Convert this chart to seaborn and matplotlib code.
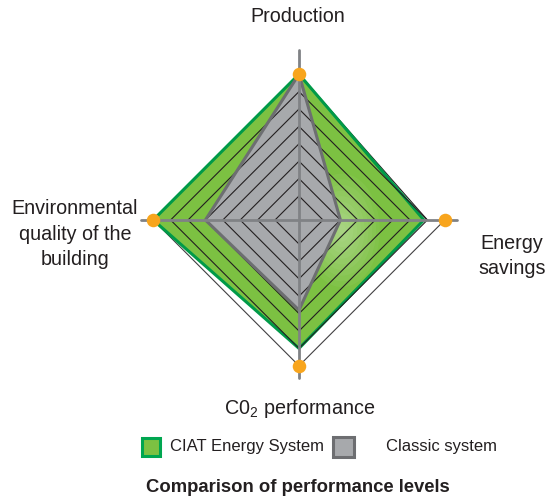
import numpy as np
import matplotlib
matplotlib.use("Agg")
import matplotlib.pyplot as plt
import seaborn as sns
from matplotlib.patches import Rectangle, Ellipse

# ---- data ----
categories = ["Production", "Energy savings", "C0$_\\mathregular{2}$ performance",
              "Environmental\nquality of the\nbuilding"]
ciat_values = [8.0, 6.8, 7.0, 8.0]
classic_values = [8.0, 2.0, 4.8, 5.0]
max_level = 8
ring_levels = [1, 2, 3, 4, 5, 6, 7]
frame_upper_right = 7
legend_labels = ["CIAT Energy System", "Classic system"]
title = "Comparison of performance levels"

sns.set_theme(style="white")
plt.rcParams["font.family"] = ["Liberation Sans", "DejaVu Sans"]
plt.rcParams["mathtext.fontset"] = "custom"
plt.rcParams["mathtext.rm"] = "Liberation Sans"

W, H = 559, 499
fig = plt.figure(figsize=(W / 100, H / 100), dpi=100)
cx, cy = 299 / W, 1 - 220 / H
aw, ah = 343.8 / W, 343.8 / H
ax = fig.add_axes([cx - aw / 2, cy - ah / 2, aw, ah], projection="polar")
ax.set_theta_zero_location("N")
ax.set_theta_direction(-1)
ax.set_ylim(-0.38, 9.5)
ax.grid(False)
ax.set_xticks([])
ax.set_yticks([])
for sp in ax.spines.values():
    sp.set_visible(False)
ax.patch.set_alpha(0)

n = len(categories)
theta = np.arange(n) * 2 * np.pi / n
theta_c = np.append(theta, 2 * np.pi)

def closed(vals):
    return np.append(vals, vals[0])

GREEN = "#7CC142"
DGREEN = "#009A48"
GRAY = "#A7A9AC"
DGRAY = "#6D6E71"
ORANGE = "#F8A51D"
INK = "#231F20"

# CIAT fill + edge
green_poly = ax.fill(theta_c, closed(ciat_values), color=GREEN, zorder=1, lw=0)[0]
sns.lineplot(x=theta_c, y=closed(ciat_values), sort=False, estimator=None,
             color=DGREEN, lw=2.2, ax=ax, zorder=1.5)

# soft light highlight inside the green area
for k in range(10):
    r = 0.11 * (1 - k / 10)
    e = Ellipse((0.625, 0.47), 2 * r * 1.0, 2 * r * 1.5, transform=ax.transAxes,
                facecolor="white", edgecolor="none", alpha=0.045, zorder=1.2)
    ax.add_patch(e)
    e.set_clip_path(green_poly)

# Classic fill
ax.fill(theta_c, closed(classic_values), color=GRAY, zorder=2, lw=0)

# grid rings
for lev in ring_levels:
    sns.lineplot(x=theta_c, y=[lev] * (n + 1), sort=False, estimator=None,
                 color=INK, lw=0.8, ax=ax, zorder=3)

sns.lineplot(x=theta_c, y=closed(classic_values), sort=False, estimator=None,
             color=DGRAY, lw=2.2, ax=ax, zorder=3.5)

# outer frame
sns.lineplot(x=[theta[0], theta[1]], y=[max_level, frame_upper_right], sort=False,
             estimator=None, color=INK, lw=0.8, ax=ax, zorder=0.5)
sns.lineplot(x=[theta[1], theta[2], theta[3], 2 * np.pi],
             y=[max_level, max_level, max_level, max_level], sort=False,
             estimator=None, color="#414042", lw=0.8, ax=ax, zorder=0.5)

# axes lines
ax.plot([theta[0], theta[2]], [9.4, 8.7], color="#808285", lw=2.0, zorder=4)
ax.plot([theta[1], theta[3]], [8.7, 8.7], color="#808285", lw=2.0, zorder=4)

# orange max markers
ax.scatter(theta, [max_level] * n, s=95, color=ORANGE, zorder=5, linewidths=0)
ax.set_xlabel("")
ax.set_ylabel("")

def px(x, y):
    return x / W, 1 - y / H

TXT = "#231F20"
fs = 14.2
fig.text(*px(298, 17), categories[0], ha="center", va="center", fontsize=fs, color=TXT)
fig.text(*px(512, 256), categories[1].replace(" ", "\n"), ha="center", va="center",
         fontsize=fs, color=TXT, linespacing=1.45)
fig.text(*px(300, 408), categories[2], ha="center", va="center", fontsize=fs, color=TXT)
fig.text(*px(75, 234), categories[3], ha="center", va="center", fontsize=fs,
         color=TXT, linespacing=1.45)

# legend
fig.patches.append(Rectangle(px(142, 456), 18 / W, 18 / H, transform=fig.transFigure,
                             facecolor=GREEN, edgecolor="#00A650", lw=2.2, figure=fig))
fig.text(*px(170, 447), legend_labels[0], ha="left", va="center", fontsize=12, color=TXT)
fig.patches.append(Rectangle(px(333, 457), 21 / W, 20 / H, transform=fig.transFigure,
                             facecolor=GRAY, edgecolor=DGRAY, lw=2.2, figure=fig))
fig.text(*px(386, 447), legend_labels[1], ha="left", va="center", fontsize=12, color=TXT)

fig.text(*px(298, 488), title, ha="center", va="center", fontsize=13.3,
         fontweight="bold", color=TXT)

fig.savefig("out.png", dpi=100)
